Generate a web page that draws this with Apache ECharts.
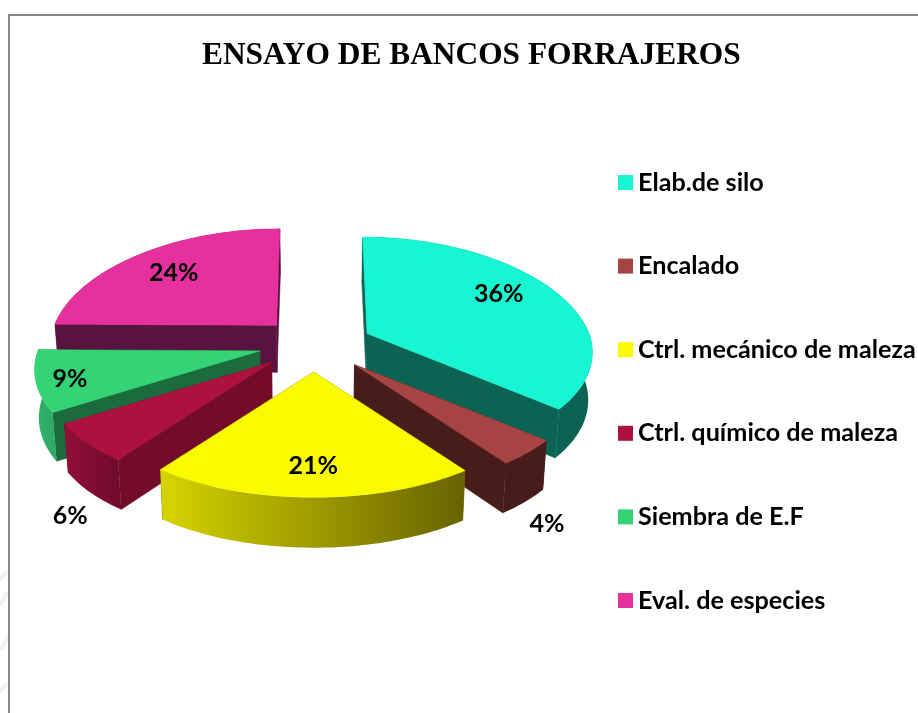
<!DOCTYPE html>
<html>
<head>
<meta charset="utf-8">
<style>html,body{margin:0;padding:0;background:#fff}#c{width:918px;height:713px}</style>
<script src="https://cdn.jsdelivr.net/npm/echarts@6/dist/echarts.min.js"></script>
</head>
<body>
<div id="c"></div>
<script>
const titleText = 'ENSAYO DE BANCOS FORRAJEROS';
const categories = ['Elab.de silo','Encalado','Ctrl. mecánico de maleza','Ctrl. químico de maleza','Siembra de E.F','Eval. de especies'];
const values = [36,4,21,6,9,24];
const topColors = ['#17F5D3','#A64444','#FAFA00','#AB1240','#34D375','#E6309D'];
const wallColors = ['#0B6353','#471C1A','#6A6600','#730C2B','#1B6B3D','#58133F'];
const rimFrom = ['#0B6353','#471C1A','#D6D400','#920F38','#2FB56C','#58133F'];
const rimTo = ['#0B6353','#471C1A','#666200','#6E0A2A','#2FA865','#58133F'];
const drawOrder = [2,4,6,5,3,1]; // painter order (z) of each slice
const labelNudge = [[2,-9],[71,98],[5,6],[-72,97],[-33,7],[-7,-3]];

// 3D view of the exploded pie
const CX=315.5, CY=345, EX=57, EY=27, RX=222, RY=109, PX=0.17, PY=0.13, DEPTH=47, DEPTH_GROW=0.02, NARROW=0.985, LABEL_R=0.7;
const total = values.reduce((a,b)=>a+b,0);
const starts = []; values.reduce((acc,v,i)=>{starts[i]=acc;return acc+v;},0);

// Perspective foreshortening of angles on the far-left side of the disc
function viewAngle(a){
  const d=a*180/Math.PI;
  let shift=0;
  if(d>180 && d<=220) shift=-3*(d-180)/40;
  else if(d>220 && d<=274) shift=-3;
  else if(d>274) shift=-3*(360-d)/86;
  return (d+shift)*Math.PI/180;
}
function project(a, ax, ay, r){
  const b=viewAngle(a), X=Math.sin(b), Y=Math.cos(b), fx=1/(1+PX*Y), fy=1/(1+PY*Y);
  return [ax + r*RX*X*fx + (CX-ax)*Math.max(0,1-fx)*0.6*r, ay - r*RY*Y*fy];
}
function lower(p){ return [CX+(p[0]-CX)*NARROW, p[1]+DEPTH+(p[1]-325)*DEPTH_GROW]; }

function makeRender(i){
  return function(params, api){
    const v = api.value(0);
    const a0 = starts[i]/total*2*Math.PI, a1 = a0 + v/total*2*Math.PI, m=(a0+a1)/2;
    const ax = CX + EX*Math.sin(m), ay = CY - EY*Math.cos(m);
    const apex=[ax,ay], steps=Math.max(8,Math.round(v*3));
    const rim=[];
    for(let k=0;k<=steps;k++){ rim.push(project(a0+(a1-a0)*k/steps,ax,ay,1)); }
    const rimLow=rim.map(lower).reverse();
    const apexLow=lower(apex);
    const wall=wallColors[i];
    const poly=(pts,fill)=>({type:'polygon',shape:{points:pts},style:{fill:fill,stroke:typeof fill==='string'?fill:null,lineWidth:typeof fill==='string'?0.5:0}});
    const grad=new echarts.graphic.LinearGradient(0,0,1,0,[{offset:0,color:rimFrom[i]},{offset:1,color:rimTo[i]}]);
    const lp=project(m,ax,ay,LABEL_R);
    return {type:'group',children:[
      poly([apex,rim[0],lower(rim[0]),apexLow],wall),
      poly([apex,rim[steps],lower(rim[steps]),apexLow],wall),
      poly(rim.concat(rimLow),grad),
      poly([apex].concat(rim),topColors[i]),
      {type:'text',z2:10,style:{text:Math.round(v/total*100)+'%',x:lp[0]+labelNudge[i][0],y:lp[1]+labelNudge[i][1],
        align:'center',verticalAlign:'middle',fill:'#000',font:'bold 25px Lato'}}
    ]};
  };
}

const series = categories.map((name,i)=>({
  type:'custom', name:name, coordinateSystem:'none', z:drawOrder[i]+2,
  itemStyle:{color:topColors[i]}, silent:true, animation:false,
  data:[[values[i]]], renderItem:makeRender(i)
}));

const faint=(pts)=>({type:'polyline',z:0,silent:true,shape:{points:pts,smooth:0.5},style:{fill:'none',stroke:'#f1f1f1',lineWidth:4}});
const chart = echarts.init(document.getElementById('c'),null,{renderer:'canvas'});
chart.setOption({
  animation:false,
  backgroundColor:'#fff',
  title:{text:titleText,top:35,left:197,textStyle:{fontFamily:'Liberation Serif',fontWeight:'bold',fontSize:31.4,color:'#000'}},
  legend:{orient:'vertical',left:613,top:165,itemWidth:15,itemHeight:15,itemGap:58.6,icon:'rect',
    data:categories,selectedMode:false,
    textStyle:{fontFamily:'Lato',fontWeight:'bold',fontSize:25.2,color:'#000',lineHeight:25}},
  graphic:[
    faint([[0,580],[5,574],[8,572]]),
    faint([[0,605],[5,596],[8,592]]),
    faint([[0,650],[5,642],[8,636]]),
    faint([[0,692],[5,686],[8,684]]),
    {type:'rect',z:1,silent:true,shape:{x:9,y:15,width:1000,height:1000},style:{fill:'none',stroke:'#878787',lineWidth:2}}
  ],
  series:series
});
</script>
</body>
</html>
